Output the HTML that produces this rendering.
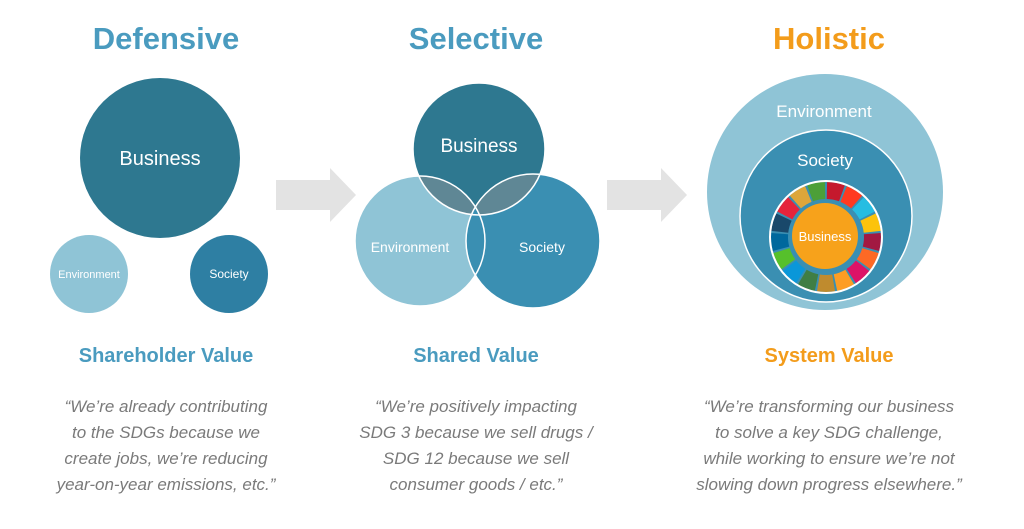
<!DOCTYPE html>
<html><head><meta charset="utf-8"><style>
html,body{margin:0;padding:0;background:#fff;}
svg{display:block;font-family:"Liberation Sans",sans-serif;}
.t{font-weight:bold;font-size:31px;text-anchor:middle;}
.s{font-weight:bold;font-size:20px;text-anchor:middle;}
.q{font-style:italic;font-size:17px;fill:#7a7a7a;text-anchor:middle;}
.w{fill:#fff;text-anchor:middle;}
</style></head><body>
<svg width="1024" height="529" viewBox="0 0 1024 529">
<defs>
<clipPath id="cb"><circle cx="479" cy="149" r="66"/></clipPath>
<clipPath id="ce"><circle cx="420" cy="241" r="65"/></clipPath>
</defs>
<text class="t" x="166" y="49" fill="#4a9bbf">Defensive</text>
<text class="t" x="476" y="49" fill="#4a9bbf">Selective</text>
<text class="t" x="829" y="49" fill="#f39c1b">Holistic</text>

<!-- defensive -->
<circle cx="160" cy="158" r="80" fill="#2e7890"/>
<text class="w" x="160" y="165" font-size="20">Business</text>
<circle cx="89" cy="274" r="39" fill="#8fc4d6"/>
<text class="w" x="89" y="278" font-size="11">Environment</text>
<circle cx="229" cy="274" r="39" fill="#2e7fa3"/>
<text class="w" x="229" y="278" font-size="12">Society</text>

<!-- arrows -->
<polygon points="276,180 330,180 330,168 356,195 330,222 330,210 276,210" fill="#e3e3e3"/>
<polygon points="607,180 661,180 661,168 687,195 661,222 661,210 607,210" fill="#e3e3e3"/>

<!-- venn -->
<circle cx="420" cy="241" r="65" fill="#8fc4d6"/>
<circle cx="533" cy="241" r="67" fill="#3a8fb2"/>
<circle cx="479" cy="149" r="66" fill="#2e7890"/>
<g clip-path="url(#cb)">
<circle cx="420" cy="241" r="65" fill="#5f8795"/>
<circle cx="533" cy="241" r="67" fill="#5f8795"/>
</g>
<g clip-path="url(#ce)"><circle cx="533" cy="241" r="67" fill="#3a8fb2"/></g>
<g fill="none" stroke="#fff" stroke-width="1.5">
<circle cx="420" cy="241" r="65"/><circle cx="533" cy="241" r="67"/><circle cx="479" cy="149" r="66"/>
</g>
<text class="w" x="479" y="152" font-size="19">Business</text>
<text class="w" x="410" y="252" font-size="14">Environment</text>
<text class="w" x="542" y="252" font-size="14">Society</text>

<!-- holistic -->
<circle cx="825" cy="192" r="118" fill="#8fc4d6"/>
<circle cx="826" cy="216" r="86" fill="#3a8fb2" stroke="#fff" stroke-width="1.5"/>
<text class="w" x="824" y="117" font-size="17" fill="#fff">Environment</text>
<text class="w" x="825" y="166" font-size="17">Society</text>
<g id="ring"></g>
<circle cx="825" cy="236" r="33" fill="#f7a21b"/>
<text class="w" x="825" y="241" font-size="13">Business</text>

<!-- subtitles -->
<text class="s" x="166" y="362" fill="#4a9bbf">Shareholder Value</text>
<text class="s" x="476" y="362" fill="#4a9bbf">Shared Value</text>
<text class="s" x="829" y="362" fill="#f39c1b">System Value</text>

<text class="q" x="166" y="412">“We’re already contributing</text>
<text class="q" x="166" y="438">to the SDGs because we</text>
<text class="q" x="166" y="464">create jobs, we’re reducing</text>
<text class="q" x="166" y="490">year-on-year emissions, etc.”</text>

<text class="q" x="476" y="412">“We’re positively impacting</text>
<text class="q" x="476" y="438">SDG 3 because we sell drugs /</text>
<text class="q" x="476" y="464">SDG 12 because we sell</text>
<text class="q" x="476" y="490">consumer goods / etc.”</text>

<text class="q" x="829" y="412">“We’re transforming our business</text>
<text class="q" x="829" y="438">to solve a key SDG challenge,</text>
<text class="q" x="829" y="464">while working to ensure we’re not</text>
<text class="q" x="829" y="490">slowing down progress elsewhere.”</text>
</svg>
<script>
(function(){
var c=["#e5243b","#dda63a","#4c9f38","#c5192d","#ff3a21","#26bde2","#fcc30b","#a21942","#fd6925","#dd1367","#fd9d24","#bf8b2e","#3f7e44","#0a97d9","#56c02b","#00689d","#19486a"];
var g=document.getElementById("ring"),cx=826,cy=237,r1=38,r2=55,n=17,ns="http://www.w3.org/2000/svg";
for(var i=0;i<n;i++){
var a0=(i/n)*2*Math.PI-Math.PI/2+0.02,a1=((i+1)/n)*2*Math.PI-Math.PI/2-0.02;
function p(r,a){return (cx+r*Math.cos(a)).toFixed(2)+","+(cy+r*Math.sin(a)).toFixed(2);}
var d="M"+p(r2,a0)+"A"+r2+","+r2+" 0 0 1 "+p(r2,a1)+"L"+p(r1,a1)+"A"+r1+","+r1+" 0 0 0 "+p(r1,a0)+"Z";
var e=document.createElementNS(ns,"path");e.setAttribute("d",d);e.setAttribute("fill",c[(i+3)%n]);g.appendChild(e);}
var w=document.createElementNS(ns,"circle");w.setAttribute("cx",cx);w.setAttribute("cy",cy);w.setAttribute("r",56);w.setAttribute("fill","none");w.setAttribute("stroke","#fff");w.setAttribute("stroke-width","2");g.appendChild(w);
})();
</script>
</body></html>
